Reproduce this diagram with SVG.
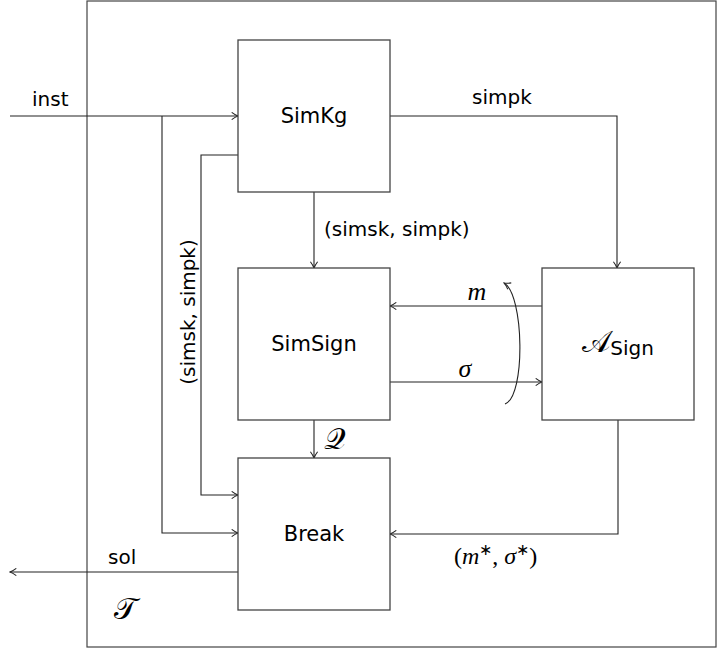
<svg xmlns="http://www.w3.org/2000/svg" width="722" height="648" viewBox="0 0 722 648">
<defs>
<style>
.box{fill:#fff;stroke:#444;stroke-width:1.3}
.ln{fill:none;stroke:#222;stroke-width:1.1}
.t{font-family:"DejaVu Sans","Liberation Sans",sans-serif;font-size:20px;fill:#000}
.n{font-family:"DejaVu Sans","Liberation Sans",sans-serif;font-size:21px;fill:#000}
.m{font-family:"Liberation Serif","DejaVu Serif",serif;font-style:italic;font-size:26px;fill:#000}
.s{font-family:"DejaVu Sans","Noto Sans",serif;font-size:30px;fill:#000}
</style>
<marker id="a" viewBox="0 0 10 10" refX="9" refY="5" markerWidth="9" markerHeight="9" orient="auto" markerUnits="userSpaceOnUse">
<path d="M2,1 Q6,4 9,5 Q6,6 2,9" fill="none" stroke="#222" stroke-width="1.2"/>
</marker>
</defs>
<rect x="87" y="1" width="629" height="646" fill="#fff" stroke="#444" stroke-width="1.2"/>
<g id="connectors">
<path class="ln" d="M10,116 H238" marker-end="url(#a)"/>
<path class="ln" d="M390,116 H617 V268" marker-end="url(#a)"/>
<path class="ln" d="M314,192 V268" marker-end="url(#a)"/>
<path class="ln" d="M238,155 H201 V495 H238" marker-end="url(#a)"/>
<path class="ln" d="M162,116 V533 H238" marker-end="url(#a)"/>
<path class="ln" d="M542,306 H390" marker-end="url(#a)"/>
<path class="ln" d="M390,382 H542" marker-end="url(#a)"/>
<path class="ln" d="M314,420 V458" marker-end="url(#a)"/>
<path class="ln" d="M618,420 V534 H390" marker-end="url(#a)"/>
<path class="ln" d="M238,572 H10" marker-end="url(#a)"/>
<path class="ln" d="M505,404 C526,396 524,294 504,283" marker-end="url(#a)"/>
</g>
<g id="SimKg"><rect class="box" x="238" y="40" width="152" height="152"/><text class="n" x="314" y="123" text-anchor="middle">SimKg</text></g>
<g id="SimSign"><rect class="box" x="238" y="268" width="152" height="152"/><text class="n" x="314" y="351" text-anchor="middle">SimSign</text></g>
<g id="Break"><rect class="box" x="238" y="458" width="152" height="152"/><text class="n" x="314" y="541" text-anchor="middle">Break</text></g>
<g id="ASign"><rect class="box" x="542" y="268" width="152" height="152"/><text x="618" y="352" text-anchor="middle"><tspan class="s">𝒜</tspan><tspan class="t" font-size="15" dy="3">Sign</tspan></text></g>
<g id="labels">
<text class="t" x="32" y="106">inst</text>
<text class="t" x="472" y="104">simpk</text>
<text class="t" x="324" y="236">(simsk, simpk)</text>
<text class="t" transform="translate(195,312) rotate(-90)" text-anchor="middle">(simsk, simpk)</text>
<text class="m" x="477" y="300" text-anchor="middle">m</text>
<text class="m" x="465" y="377" text-anchor="middle">σ</text>
<text class="s" x="324" y="449">𝒬</text>
<text x="454" y="564" font-family="Liberation Serif,serif" font-size="24"><tspan>(</tspan><tspan font-style="italic">m</tspan><tspan font-size="16" dy="-9">∗</tspan><tspan dy="9">, </tspan><tspan font-style="italic">σ</tspan><tspan font-size="16" dy="-9">∗</tspan><tspan dy="9">)</tspan></text>
<text class="t" x="108" y="564">sol</text>
<text class="s" x="114" y="619">𝒯</text>
</g>
</svg>
